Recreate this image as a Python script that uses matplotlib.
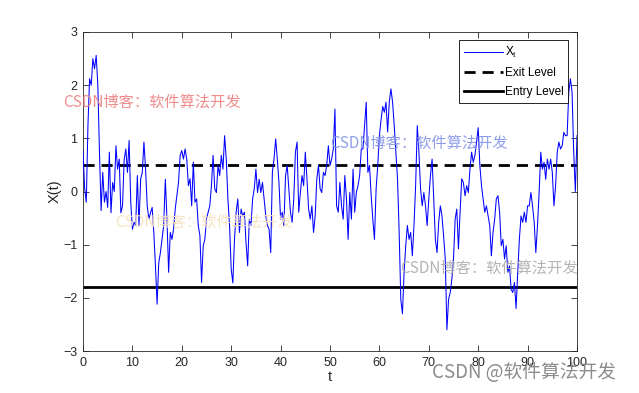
import numpy as np
import matplotlib
matplotlib.use('Agg')
import matplotlib.pyplot as plt

# ================================
# Dados
# ================================
t_start, t_end = 0, 100

x_values = [
    0.77, 0.05, -0.2, 1.24, 2.12, 2.0, 2.5, 2.31, 2.56, 2.0,
    0.74, -0.36, 0.36, -0.2, 0.0, -0.3, 0.74, -0.4, 0.17, 0.0,
    0.86, 0.42, 0.61, -0.4, -0.27, 0.6, 0.8, 0.36, 0.96, -0.2,
    -0.71, -0.58, -0.64, 0.3, -0.64, 0.23, 0.36, 0.93, 0.42, -0.27,
    -0.52, -0.4, -0.3, -0.77, -1.4, -2.12, -1.34, -1.15, -0.9, -0.64,
    0.23, -0.52, -1.52, -0.77, -0.9, -0.71, -0.33, -0.08, 0.17, 0.68,
    0.77,
    0.61, 0.8, 0.61, 0.11, 0.24, -0.27, 0.55, -0.2, -0.14, -0.64,
    -0.83, -1.71, -1.02, -0.9, -0.52, -0.39, -0.27, 0.11, 0.68, 0.05,
    -0.02, 0.49, 0.3, 0.68, 0.42, 1.05, 0.61, -0.14, -0.64, -1.46,
    -1.72, -0.9, -0.39, -0.14, -0.77, -0.33, -0.46, -0.39, -0.96, -1.4,
    -0.52, -0.64, -0.14, 0.05, 0.42, -0.02, 0.23, -0.02, 0.17, -0.14,
    -0.46, -0.64, -0.71, -1.15, 0.36, 0.61, 0.99, 0.61, 0.17, -0.52,
    -0.39, -0.64, 0.3, 0.49, 0.05, -0.39, -0.58, -0.14, 0.74, 0.93,
    -0.39, -0.02, 0.3, 0.11, 0.74, 0.24, -0.33, -0.52, -0.27, -0.77,
    -0.46, 0.24, 0.49, 0.05, -0.02, 0.36, 0.3, 0.49, 0.86, 0.49,
    0.61, 0.8, 1.55, -0.27, -0.39, 0.17, -0.27, -0.52, 0.3, -0.14,
    -0.9, -0.02, -0.52, 0.42, -0.39, -0.02, 0.11, 0.3, 0.8, 0.8,
    1.24, 1.68, 0.36, 0.49, -0.08, -0.52, -0.9, 0.05, 0.49, 1.05,
    1.35, 1.6, 1.49, 1.68, 1.12, 1.68, 1.93, 1.68, 1.24, 0.74,
    0.24, -0.77, -2.03, -2.3, -1.52, -1.02, -0.64, -0.9, -0.77, -1.21,
    -0.64, 0.11, 1.24, 0.74, 0.05, -0.27, -0.02, -0.27, -0.64, -0.14,
    0.3, 0.61, -0.14, -0.9, -1.15, -0.58, -0.27, -0.46, -0.84, -1.27,
    -2.6, -2.03, -1.9, -1.65, -1.27, -0.52, -0.33, -1.08, -0.39, 0.24,
    0.17, -0.08, 0.11, -0.02, 0.42, 0.74, 0.55, 0.68, 0.93, 1.2,
    0.49, 0.11, -0.14, -0.39, -0.27, -0.46, -0.64, -1.21, -0.77, -0.52,
    -0.14, -0.08, -0.39, -1.02, -0.9, -1.27, -1.02, -1.52, -1.4, -1.84,
    -1.9, -1.71, -2.2, -1.52, -0.9, -0.46, -0.58, -0.39, -0.58, -0.27,
    -0.27, -0.02, -0.27, -0.58, -1.15, -0.64, -0.02, 0.74, 0.42, 0.55,
    0.23, 0.61, 0.42, 0.61, 0.36, -0.27, 0.11, 0.74, 0.93, 0.8,
    0.86, 1.11, 1.05, 1.05, 1.87, 2.12, 1.87, 0.74, 0.0, 1.05,
]

exit_level = 0.5
entry_level = -1.8

x_ticks = [0, 10, 20, 30, 40, 50, 60, 70, 80, 90, 100]
y_ticks = [-3, -2, -1, 0, 1, 2, 3]

watermark = 'CSDN博客：软件算法开发'
watermarks = [
    # (x_px, y_px, cor)
    (63, 102, '#ee8080'),
    (330, 143, '#8394e8'),
    (115, 222, '#f6e0bc'),
    (400, 268, '#acacac'),
]

FONT = 'Liberation Sans'
CJK = ['Noto Sans CJK SC', 'DejaVu Sans']

# ================================
# Figura
# ================================
W, H = 639, 393
fig = plt.figure(figsize=(W / 100, H / 100), dpi=100)
ax = fig.add_axes([83 / W, 1 - 351 / H, (577 - 83) / W, (351 - 32) / H])

t = np.linspace(t_start, t_end, len(x_values))
ax.plot(t, x_values, color='#0000ff', linewidth=0.75, label='X$_\\mathregular{t}$', zorder=3)
ax.axhline(exit_level, color='black', linewidth=2.0, linestyle=(0, (4, 2.5)), label='Exit Level', zorder=2)
ax.axhline(entry_level, color='black', linewidth=2.0, linestyle='-', label='Entry Level', zorder=2)

ax.set_xlim(0, 100)
ax.set_ylim(-3, 3)
ax.set_xticks(x_ticks)
ax.set_yticks(y_ticks)
ax.tick_params(direction='in', length=4, width=0.6, top=True, right=True,
               labelsize=9, pad=4, colors='#262626')
for lbl in ax.get_xticklabels() + ax.get_yticklabels():
    lbl.set_fontfamily(FONT)
for s in ax.spines.values():
    s.set_linewidth(0.6)
    s.set_color('#262626')

ax.set_xlabel('t', fontfamily=FONT, fontsize=10.5, labelpad=1, color='#262626')
ax.set_ylabel('X(t)', fontfamily=FONT, fontsize=10.5, labelpad=1, color='#262626')

leg = ax.legend(loc='upper right', bbox_to_anchor=((568 - 83) / 494, (351 - 40) / 319),
                borderaxespad=0, fancybox=False, framealpha=1, edgecolor='black',
                prop={'family': FONT, 'size': 8.5}, handlelength=3.3,
                handletextpad=0.15, labelspacing=0.6, borderpad=0.4)
leg.get_frame().set_linewidth(0.6)

# marcas d'agua
for x_px, y_px, c in watermarks:
    fig.text(x_px / W, 1 - y_px / H, watermark, color=c, fontsize=11,
             family=CJK, va='center', ha='left', alpha=0.9, zorder=5)
fig.text(432 / W, 1 - 373 / H, 'CSDN @软件算法开发', color='#8c8c8c', fontsize=13.5,
         family=CJK, va='center', ha='left')

fig.savefig('out.png', dpi=100)
